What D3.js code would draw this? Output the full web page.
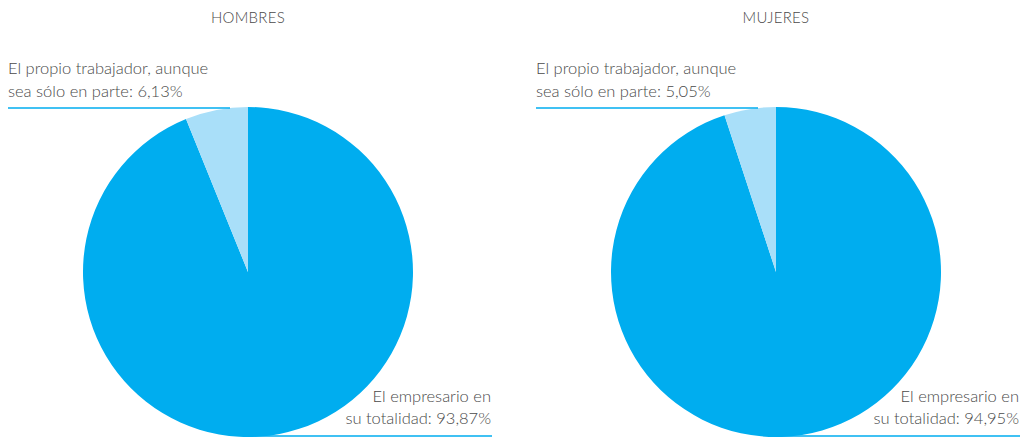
<!DOCTYPE html>
<html><head><meta charset="utf-8">
<script src="https://cdn.jsdelivr.net/npm/d3@7"></script>
<style>body{margin:0;background:#fff}svg{display:block}</style>
</head><body><svg id="c" width="1029" height="437"></svg>
<script>
const groups = ["HOMBRES", "MUJERES"];
const categories = ["El empresario en su totalidad", "El propio trabajador, aunque sea sólo en parte"];
const hombres = [93.87, 6.13];
const mujeres = [94.95, 5.05];
const seriesValues = [hombres, mujeres];
const colors = ["#00adef", "#a9dff9"];

const svg = d3.select("#c");
const font = "Lato, 'Open Sans', sans-serif";
const fmt = v => v.toFixed(2).replace(".", ",");
const x = d3.scalePoint().domain(groups).range([248, 776]);
const R = 165;
const pie = d3.pie().sort(null).value(d => d);
const arc = d3.arc().innerRadius(0).outerRadius(R);

groups.forEach((g, i) => {
  const cx = x(g);
  const cy = 272;
  const gg = svg.append("g");
  gg.append("text").attr("x", cx).attr("y", 23).attr("text-anchor", "middle")
    .attr("font-family", font).attr("font-weight", 300).attr("font-size", 15)
    .attr("letter-spacing", 0.3).attr("fill", "#4a4a4a").text(g);
  const pg = gg.append("g").attr("transform", `translate(${cx},${cy})`);
  pg.selectAll("path").data(pie(seriesValues[i])).join("path")
    .attr("d", arc).attr("fill", (d, j) => colors[j]);
  const vals = seriesValues[i];
  const lx = cx - 240;
  const t1 = gg.append("text").attr("font-family", font).attr("font-weight", 300).attr("font-size", 16.5).attr("fill", "#4a4a4a");
  t1.append("tspan").attr("x", lx).attr("y", 74).text("El propio trabajador, aunque");
  t1.append("tspan").attr("x", lx).attr("y", 97).text("sea sólo en parte: " + fmt(vals[1]) + "%");
  gg.append("line").attr("x1", lx).attr("x2", cx - 18).attr("y1", 108).attr("y2", 108)
    .attr("stroke", colors[0]).attr("stroke-width", 1.5);
  const rx = cx + 243;
  const t2 = gg.append("text").attr("font-family", font).attr("font-weight", 300).attr("font-size", 16.5).attr("fill", "#4a4a4a").attr("text-anchor", "end");
  t2.append("tspan").attr("x", rx).attr("y", 402).text("El empresario en");
  t2.append("tspan").attr("x", rx).attr("y", 424).text("su totalidad: " + fmt(vals[0]) + "%");
  gg.append("line").attr("x1", cx).attr("x2", rx + 1).attr("y1", 436).attr("y2", 436)
    .attr("stroke", colors[0]).attr("stroke-width", 1.5);
});
</script></body></html>
